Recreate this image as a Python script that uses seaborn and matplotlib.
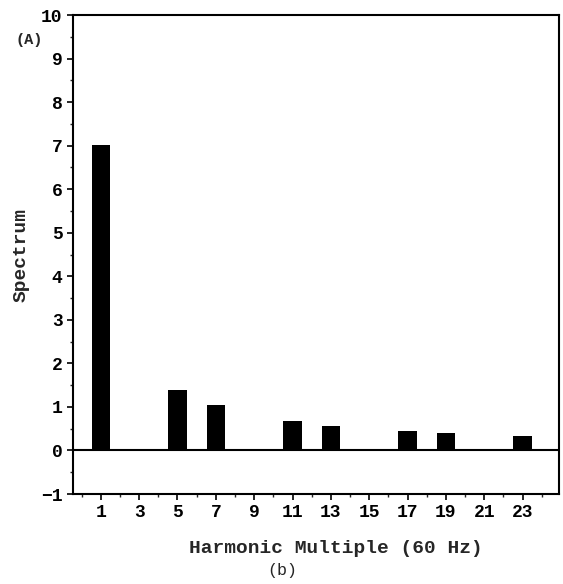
import matplotlib
matplotlib.use("Agg")
import matplotlib.pyplot as plt
import seaborn as sns
import numpy as np
import pandas as pd
from matplotlib.ticker import MultipleLocator

harmonics = [1, 5, 7, 11, 13, 17, 19, 23]
spectrum = [7.02, 1.38, 1.04, 0.67, 0.57, 0.44, 0.40, 0.34]
xticks = list(range(1, 24, 2))
yticks = list(range(-1, 11))

sns.set_theme(style="ticks")
plt.rcParams['font.family'] = ['Liberation Mono', 'DejaVu Sans']

df = pd.DataFrame({"h": harmonics, "s": spectrum})

fig = plt.figure(figsize=(5.63, 5.84), dpi=100)
ax = fig.add_axes([73/563, 1-494/584, (559-73)/563, (494-15)/584])

sns.barplot(data=df, x="h", y="s", native_scale=True, width=0.48,
            color="black", edgecolor="black", linewidth=0, saturation=1, ax=ax)

ax.axhline(0, color="black", lw=1.5)
ax.set_xlim(-0.45, 24.9)
ax.set_ylim(-1, 10)
ax.set_xticks(xticks)
ax.set_yticks(yticks)
ax.xaxis.set_minor_locator(MultipleLocator(1))
ax.yaxis.set_minor_locator(MultipleLocator(0.5))
ax.tick_params(axis="both", which="major", direction="out", length=4, width=1.2,
               labelsize=13, colors="black")
ax.tick_params(axis="both", which="minor", direction="out", length=2, width=1)
for lbl in ax.get_xticklabels() + ax.get_yticklabels():
    lbl.set_fontweight("bold")
for s in ax.spines.values():
    s.set_visible(True)
    s.set_color("black")
    s.set_linewidth(1.5)

ax.set_xlabel("Harmonic Multiple (60 Hz)", fontsize=14, fontweight="bold")
ax.xaxis.set_label_coords(0.54, -0.096)
ax.set_ylabel("Spectrum", fontsize=14, fontweight="bold", labelpad=8)

fig.text(15/563, 1-40/584, "(A)", fontsize=11, fontweight="bold", va="center", ha="left")
fig.text(282/563, 1-571/584, "(b)", fontsize=12, va="center", ha="center")

fig.savefig("out.png", dpi=100, facecolor="white")
